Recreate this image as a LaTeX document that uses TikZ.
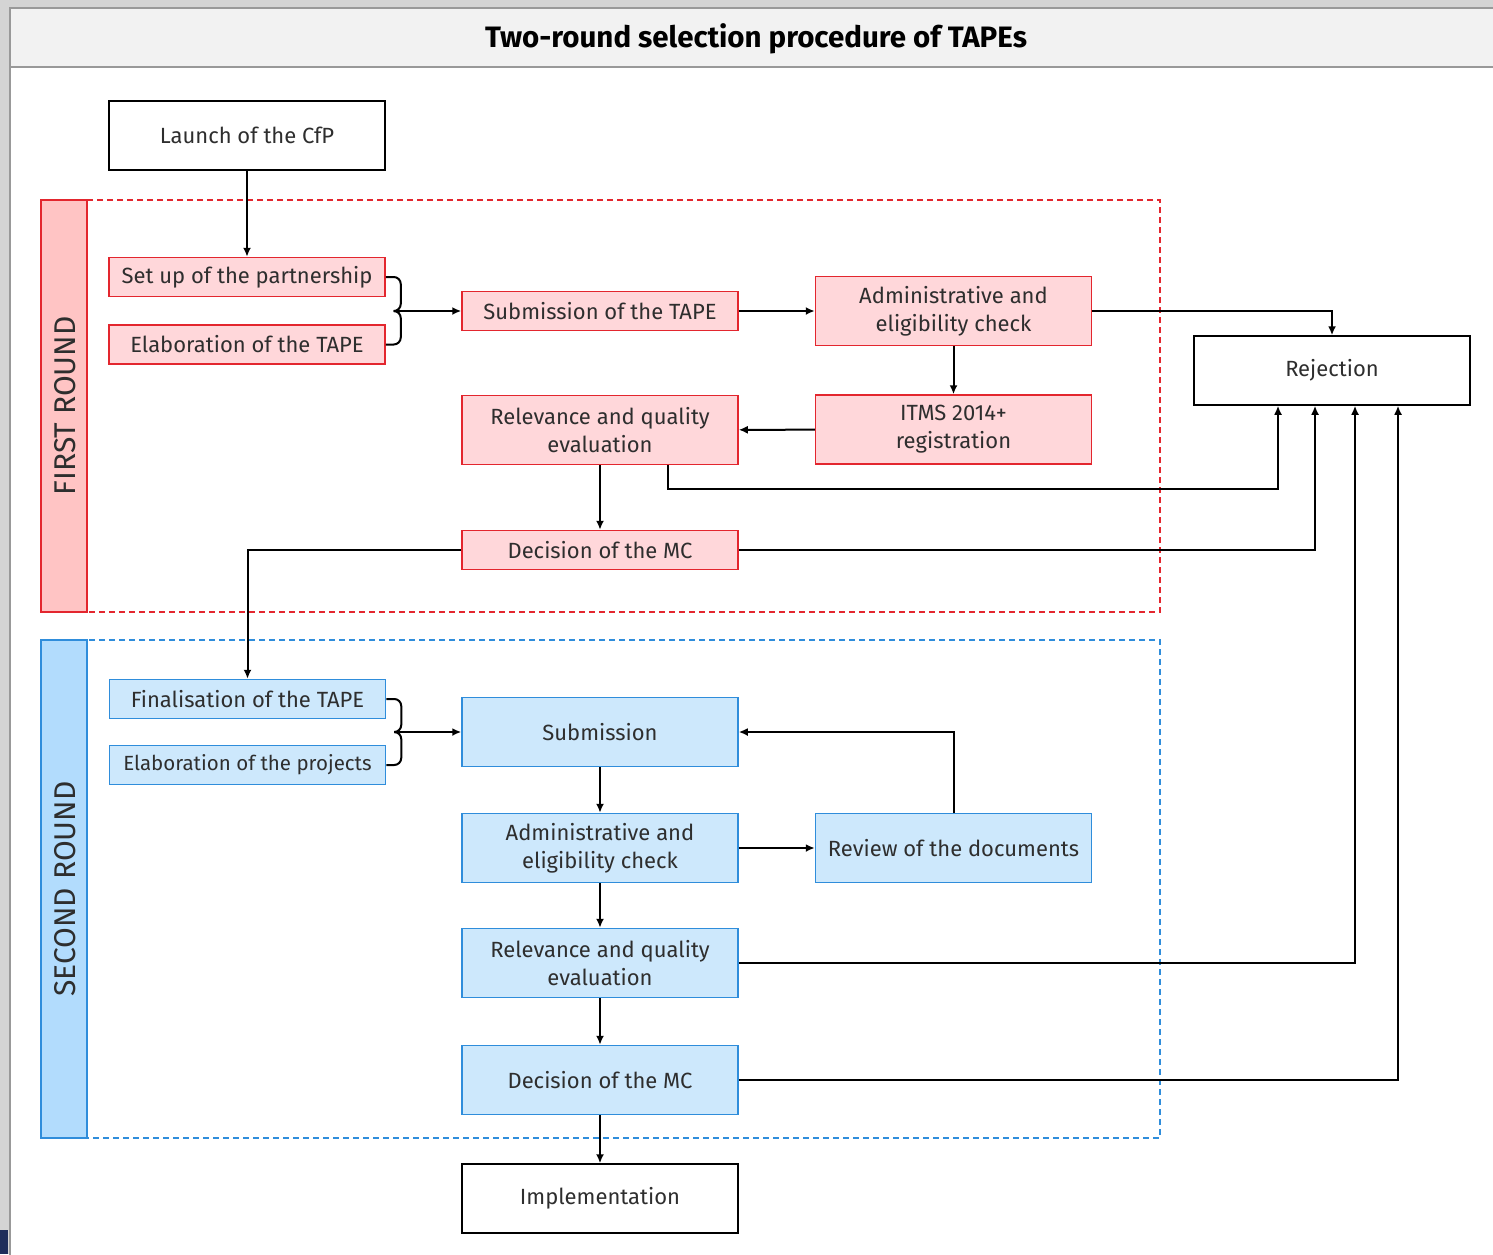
\documentclass[tikz,border=0pt]{standalone}
\usepackage{fontspec}
\setmainfont{Fira Sans}
\usetikzlibrary{arrows.meta,backgrounds}

\definecolor{redline}{HTML}{E3262E}
\definecolor{redfill}{HTML}{FFD7DA}
\definecolor{redstrip}{HTML}{FFC4C4}
\definecolor{blueline}{HTML}{2F8DDB}
\definecolor{bluefill}{HTML}{CDE8FC}
\definecolor{bluestrip}{HTML}{B2DCFD}
\definecolor{textgray}{HTML}{2E2E2E}
\definecolor{navy}{HTML}{1F2D5A}

\tikzset{
  box/.style={draw=black, line width=1.5pt, fill=white, minimum width=276pt, minimum height=69pt,
    align=center, text=textgray, font=\fontsize{22}{28}\selectfont, inner sep=0pt},
  redbox/.style={box, draw=redline, fill=redfill},
  bluebox/.style={box, draw=blueline, fill=bluefill},
  thin box/.style={minimum height=39pt},
  flow/.style={line width=2pt, -{Latex[length=9pt,width=8pt]}},
  roundlabel/.style={rotate=90, text=textgray, font=\fontsize{30}{32}\selectfont}
}

\begin{document}
\begin{tikzpicture}[x=1pt, y=-1pt]
  \useasboundingbox (0,0) rectangle (1493,1254);
  \fill[black!17] (0,0) rectangle (1493,1254);
  \fill[white] (10,8) rectangle (1500,1260);
  \draw[black!40, line width=2pt] (10,1260) -- (10,8) -- (1500,8);
  \fill[navy] (0,1230) rectangle (8,1254);

  % title
  \draw[black!40, line width=2pt, fill=black!5] (10,8) rectangle (1500,67);
  \node[font=\bfseries\fontsize{29.5}{32}\selectfont] (title) at (756,39) {Two-round selection procedure of TAPEs};

  % the two rounds
  \draw[redline, line width=1.5pt, dashed, dash pattern=on 6pt off 4pt] (41,200) rectangle (1160,612);
  \draw[redline, line width=1.5pt, fill=redstrip] (41,200) rectangle (87,612);
  \node[roundlabel] (firstround) at (65,406) {FIRST ROUND};

  \draw[blueline, line width=1.5pt, dashed, dash pattern=on 6pt off 4pt] (41,640) rectangle (1160,1138);
  \draw[blueline, line width=1.5pt, fill=bluestrip] (41,640) rectangle (87,1138);
  \node[roundlabel] (secondround) at (65,889) {SECOND ROUND};

  % nodes
  \node[box] (launch) at (247,135.5) {Launch of the CfP};
  \node[box] (rejection) at (1332,370.5) {Rejection};
  \node[box] (implementation) at (600,1198.5) {Implementation};

  \node[redbox, thin box] (setup) at (247,277) {Set up of the partnership};
  \node[redbox, thin box] (elabtape) at (247,344.5) {Elaboration of the TAPE};
  \node[redbox, thin box] (subtape) at (600,311) {Submission of the TAPE};
  \node[redbox] (adminA) at (953.5,311) {Administrative and\\eligibility check};
  \node[redbox] (itms) at (953.5,429.5) {ITMS 2014+\\registration};
  \node[redbox] (relevA) at (600,430) {Relevance and quality\\evaluation};
  \node[redbox, thin box] (decisionA) at (600,550) {Decision of the MC};

  \node[bluebox, thin box] (final) at (247.5,699) {Finalisation of the TAPE};
  \node[bluebox, thin box, font=\fontsize{20.5}{28}\selectfont] (elabproj) at (247.5,765) {Elaboration of the projects};
  \node[bluebox] (submission) at (600,732) {Submission};
  \node[bluebox] (adminB) at (600,848) {Administrative and\\eligibility check};
  \node[bluebox] (review) at (953.5,848) {Review of the documents};
  \node[bluebox] (relevB) at (600,963) {Relevance and quality\\evaluation};
  \node[bluebox] (decisionB) at (600,1080) {Decision of the MC};

  % first round connectors
  \draw[flow] (launch) -- (setup);
  \draw[line width=2pt, rounded corners=7pt] (setup.east) -- ++(15,0) |- (subtape.west -| 400,0);
  \draw[line width=2pt, rounded corners=7pt] (elabtape.east) -- ++(15,0) |- (subtape.west -| 400,0);
  \draw[flow] (subtape.west -| 400,0) -- (subtape.west);
  \draw[flow] (subtape) -- (adminA);
  \draw[flow] (adminA.east) -| (rejection.north);
  \draw[flow] (adminA) -- (itms);
  \draw[flow] (itms) -- (relevA);
  \draw[flow] (relevA) -- (decisionA);
  \draw[flow] (relevA.south -| 668,0) |- (1278,489) -- (rejection.south -| 1278,0);
  \draw[flow] (decisionA.east) -| (rejection.south -| 1315,0);
  \draw[flow] (decisionA.west) -| (final.north);

  % second round connectors
  \draw[line width=2pt, rounded corners=7pt] (final.east) -- ++(15,0) |- (submission.west -| 400,0);
  \draw[line width=2pt, rounded corners=7pt] (elabproj.east) -- ++(15,0) |- (submission.west -| 400,0);
  \draw[flow] (submission.west -| 400,0) -- (submission.west);
  \draw[flow] (submission) -- (adminB);
  \draw[flow] (adminB) -- (review);
  \draw[flow] (review.north) |- (submission.east);
  \draw[flow] (adminB) -- (relevB);
  \draw[flow] (relevB.east) -| (rejection.south -| 1355,0);
  \draw[flow] (relevB) -- (decisionB);
  \draw[flow] (decisionB.east) -| (rejection.south -| 1398,0);
  \draw[flow] (decisionB) -- (implementation);
\end{tikzpicture}
\end{document}
